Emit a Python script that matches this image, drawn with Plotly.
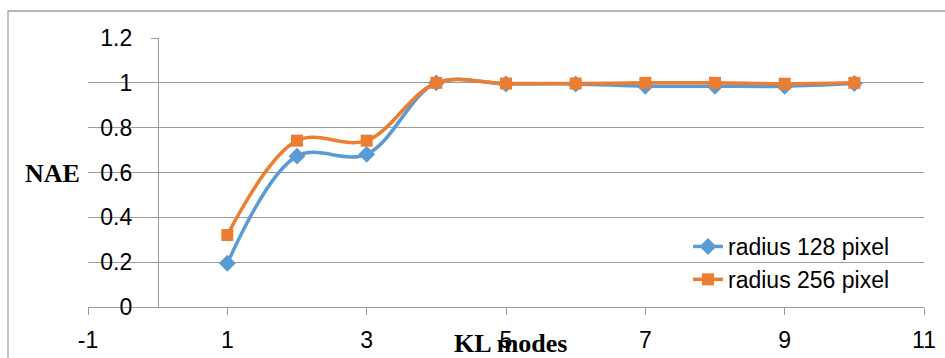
import plotly.graph_objects as go

# KL modes vs normalised absolute error for two aperture radii
kl_modes = [1, 2, 3, 4, 5, 6, 7, 8, 9, 10]
nae_r128 = [0.195, 0.673, 0.681, 1.0, 0.995, 0.995, 0.985, 0.985, 0.985, 0.997]
nae_r256 = [0.321, 0.742, 0.742, 1.0, 0.997, 0.997, 1.0, 1.0, 0.996, 1.0]
series_names = ["radius 128 pixel", "radius 256 pixel"]

x_ticks = [-1, 1, 3, 5, 7, 9, 11]
x_tick_text = ["-1", "1", "3", "5", "7", "9", "11"]
y_ticks = [0, 0.2, 0.4, 0.6, 0.8, 1.0, 1.2]
y_tick_text = ["0", "0.2", "0.4", "0.6", "0.8", "1", "1.2"]

W, H = 945, 358
ML, MR, MT, MB = 88, 21, 38, 51
PW, PH = W - ML - MR, H - MT - MB

BLUE = "#5B9BD5"
ORANGE = "#ED7D31"
GRID = "#9a9a9a"
SANS = "Liberation Sans, Arial, sans-serif"
SERIF = "Liberation Serif, Times New Roman, serif"


def px_x(p):
    return (p - ML) / PW


def px_y(p):
    return (H - MB - p) / PH


fig = go.Figure()
fig.add_trace(go.Scatter(
    x=kl_modes, y=nae_r128, name=series_names[0], mode="lines+markers",
    line=dict(color=BLUE, width=3.5, shape="spline", smoothing=1.0),
    marker=dict(symbol="diamond", size=13, color=BLUE),
))
fig.add_trace(go.Scatter(
    x=kl_modes, y=nae_r256, name=series_names[1], mode="lines+markers",
    line=dict(color=ORANGE, width=3.5, shape="spline", smoothing=1.0),
    marker=dict(symbol="square", size=12, color=ORANGE),
))

fig.update_layout(
    width=W, height=H,
    margin=dict(l=ML, r=MR, t=MT, b=MB, autoexpand=False),
    paper_bgcolor="white", plot_bgcolor="white",
    font=dict(family=SANS, size=23, color="black"),
    showlegend=True,
    legend=dict(
        x=px_x(688), y=px_y(225), xanchor="left", yanchor="top",
        bgcolor="rgba(0,0,0,0)", font=dict(family=SANS, size=23),
        tracegroupgap=0, itemwidth=30,
    ),
    xaxis=dict(
        range=[-1, 11], tickvals=x_ticks, ticktext=x_tick_text,
        showgrid=False, automargin=False,
        zeroline=False, showline=True, linecolor=GRID, linewidth=1.3,
        ticks="outside", ticklen=7, tickcolor=GRID, tickwidth=1.3,
        ticklabelstandoff=5, tickfont=dict(family=SANS, size=23),
    ),
    yaxis=dict(
        range=[0, 1.2], tickvals=y_ticks, ticktext=y_tick_text,
        anchor="free", position=px_x(158), automargin=False,
        showgrid=True, gridcolor=GRID, gridwidth=1.3,
        zeroline=False, showline=True, linecolor=GRID, linewidth=1.3,
        ticks="outside", ticklen=7, tickcolor=GRID, tickwidth=1.3,
        ticklabelstandoff=14, tickfont=dict(family=SANS, size=23),
    ),
    shapes=[dict(
        type="rect", xref="paper", yref="paper",
        x0=px_x(8), x1=px_x(952), y0=px_y(366), y1=px_y(11),
        line=dict(color="#a0a0a0", width=1.3), fillcolor="rgba(0,0,0,0)",
        layer="below",
    )],
    annotations=[
        dict(text="<b>KL modes</b>", xref="paper", yref="paper",
             x=px_x(510), y=px_y(344), xanchor="center", yanchor="middle",
             showarrow=False, font=dict(family=SERIF, size=26, color="black")),
        dict(text="<b>NAE</b>", xref="paper", yref="paper",
             x=px_x(52), y=px_y(173), xanchor="center", yanchor="middle",
             showarrow=False, font=dict(family=SERIF, size=26, color="black")),
    ],
)

fig.write_html("out.html")
